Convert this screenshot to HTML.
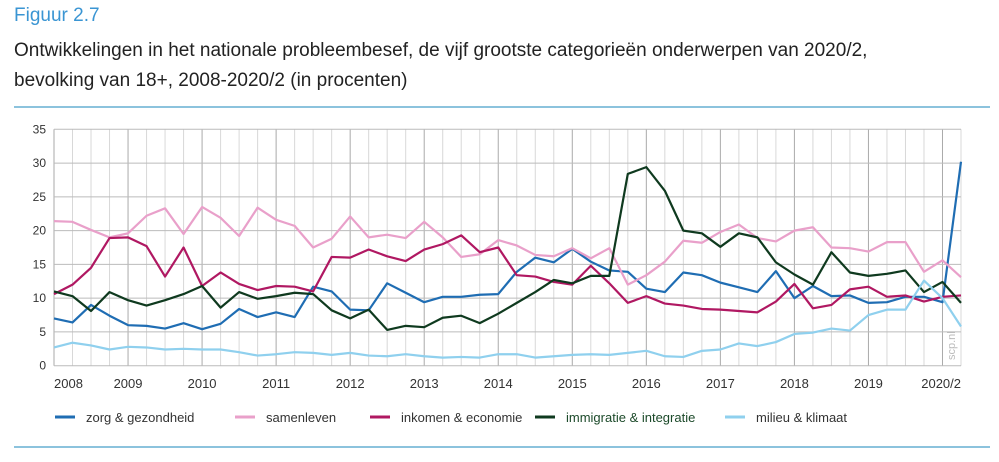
<!DOCTYPE html>
<html><head><meta charset="utf-8"><style>
html,body{margin:0;padding:0;background:#fff;}
body{width:999px;height:462px;overflow:hidden;font-family:"Liberation Sans",sans-serif;position:relative;}
.fig{position:absolute;left:14px;top:5px;color:#3a95d3;font-size:19px;}
.title{position:absolute;left:14px;top:36px;color:#222;font-size:19px;line-height:30px;}
.sep{position:absolute;left:14px;width:976px;height:2px;background:#8cc3dd;}
</style></head><body>
<div class="fig">Figuur 2.7</div>
<div class="title">Ontwikkelingen in het nationale probleembesef, de vijf grootste categorieën onderwerpen van 2020/2,<br>bevolking van 18+, 2008-2020/2 (in procenten)</div>
<div class="sep" style="top:106px"></div>
<div class="sep" style="top:446px"></div>
<svg id="chart" width="999" height="462" style="position:absolute;left:0;top:0"></svg>
<script>
const yearLabels=["2008","2009","2010","2011","2012","2013","2014","2015","2016","2017","2018","2019","2020/2"];
const yTicks=[0,5,10,15,20,25,30,35];
const seriesNames=["zorg & gezondheid","samenleven","inkomen & economie","immigratie & integratie","milieu & klimaat"];
const zorg=[7.0,6.4,9.0,7.4,6.0,5.9,5.5,6.3,5.4,6.2,8.4,7.2,7.9,7.2,11.7,11.0,8.3,8.2,12.2,10.8,9.4,10.2,10.2,10.5,10.6,13.9,16.0,15.3,17.3,15.4,14.1,13.9,11.4,10.9,13.8,13.4,12.3,11.6,10.9,14.0,10.0,11.8,10.3,10.4,9.3,9.4,10.2,10.2,9.4,30.2];
const samenleven=[21.4,21.3,20.1,19.0,19.6,22.2,23.3,19.5,23.5,21.9,19.2,23.4,21.6,20.7,17.5,18.8,22.1,19.0,19.4,18.9,21.3,19.0,16.1,16.5,18.6,17.8,16.4,16.2,17.4,15.9,17.4,12.0,13.4,15.4,18.5,18.2,19.8,20.9,18.9,18.4,20.0,20.5,17.5,17.4,16.9,18.3,18.3,13.9,15.6,13.1];
const inkomen=[10.6,12.0,14.5,18.9,19.0,17.7,13.2,17.5,11.8,13.8,12.1,11.2,11.8,11.7,11.0,16.1,16.0,17.2,16.2,15.5,17.2,18.0,19.3,16.8,17.5,13.4,13.2,12.4,12.0,14.8,12.2,9.3,10.3,9.2,8.9,8.4,8.3,8.1,7.9,9.5,12.1,8.5,9.0,11.3,11.7,10.2,10.4,9.5,10.2,10.4];
const immigratie=[11.0,10.3,8.1,10.9,9.7,8.9,9.7,10.6,11.8,8.6,10.9,9.9,10.3,10.8,10.6,8.2,7.0,8.3,5.3,5.9,5.7,7.1,7.4,6.3,7.7,9.3,10.9,12.7,12.2,13.3,13.3,28.4,29.4,25.9,20.0,19.6,17.6,19.6,19.0,15.3,13.5,12.0,16.8,13.8,13.3,13.6,14.1,10.9,12.4,9.3];
const milieu=[2.7,3.4,3.0,2.4,2.8,2.7,2.4,2.5,2.4,2.4,2.0,1.5,1.7,2.0,1.9,1.6,1.9,1.5,1.4,1.7,1.4,1.2,1.3,1.2,1.7,1.7,1.2,1.4,1.6,1.7,1.6,1.9,2.2,1.4,1.3,2.2,2.4,3.3,2.9,3.5,4.7,4.9,5.5,5.2,7.5,8.3,8.3,12.6,10.0,5.8];
const colors=["#1f6db3","#e9a0ca","#b01862","#0f3a1f","#8fd0ee"];
const allSeries=[zorg,samenleven,inkomen,immigratie,milieu];
const NS="http://www.w3.org/2000/svg";
const svg=document.getElementById('chart');
const X0=54,X1=961,Y0=365.7,Y1=129.3,YMAX=35;
const n=zorg.length;
const xs=i=>X0+(X1-X0)*i/(n-1);
const ys=v=>Y0-(Y0-Y1)*v/YMAX;
function mk(t,a){const e=document.createElementNS(NS,t);for(const k in a)e.setAttribute(k,a[k]);svg.appendChild(e);return e;}
for(let i=0;i<n;i++){
  const l=mk('line',{x1:xs(i),x2:xs(i),y1:Y1,y2:Y0,stroke:i%4===0?'#aaa':'#d8d8d8','stroke-width':1});
  
  
}
yTicks.forEach(v=>{
  const l=mk('line',{x1:X0,x2:X1,y1:ys(v),y2:ys(v),stroke:'#bbb','stroke-width':1});
  
  
  const t=mk('text',{x:46,y:ys(v)+4,'text-anchor':'end','font-size':12,fill:'#333','font-family':'Liberation Sans, sans-serif'});
  t.textContent=v;
  
  
});
yearLabels.forEach((lab,k)=>{
  let x=xs(k*4),anchor='middle';
  if(k===0){x=54;anchor='start';}
  if(k===yearLabels.length-1){x=X1;anchor='end';}
  const t=mk('text',{x:x,y:388,'text-anchor':anchor,'font-size':13,fill:'#333','font-family':'Liberation Sans, sans-serif'});
  t.textContent=lab;
  
  
});
const wm=mk('text',{x:955,y:360,transform:'rotate(-90 955 360)','font-size':11,fill:'#bbb','font-family':'Liberation Sans, sans-serif'});
wm.textContent='scp.nl';


allSeries.forEach((s,si)=>{
  const p=mk('polyline',{points:s.map((v,i)=>xs(i)+','+ys(v)).join(' '),fill:'none',stroke:colors[si],'stroke-width':2.2,'stroke-linejoin':'round'});
  
  
});
const legX=[55,235,370,535,725];
seriesNames.forEach((nm,i)=>{
  const l=mk('line',{x1:legX[i],x2:legX[i]+20,y1:417,y2:417,stroke:colors[i],'stroke-width':3});
  
  
  const t=mk('text',{x:legX[i]+31,y:422,'font-size':13,fill:i===3?'#1c4a2a':'#333','font-family':'Liberation Sans, sans-serif'});
  t.textContent=nm;
  
  
});
</script>
</body></html>
